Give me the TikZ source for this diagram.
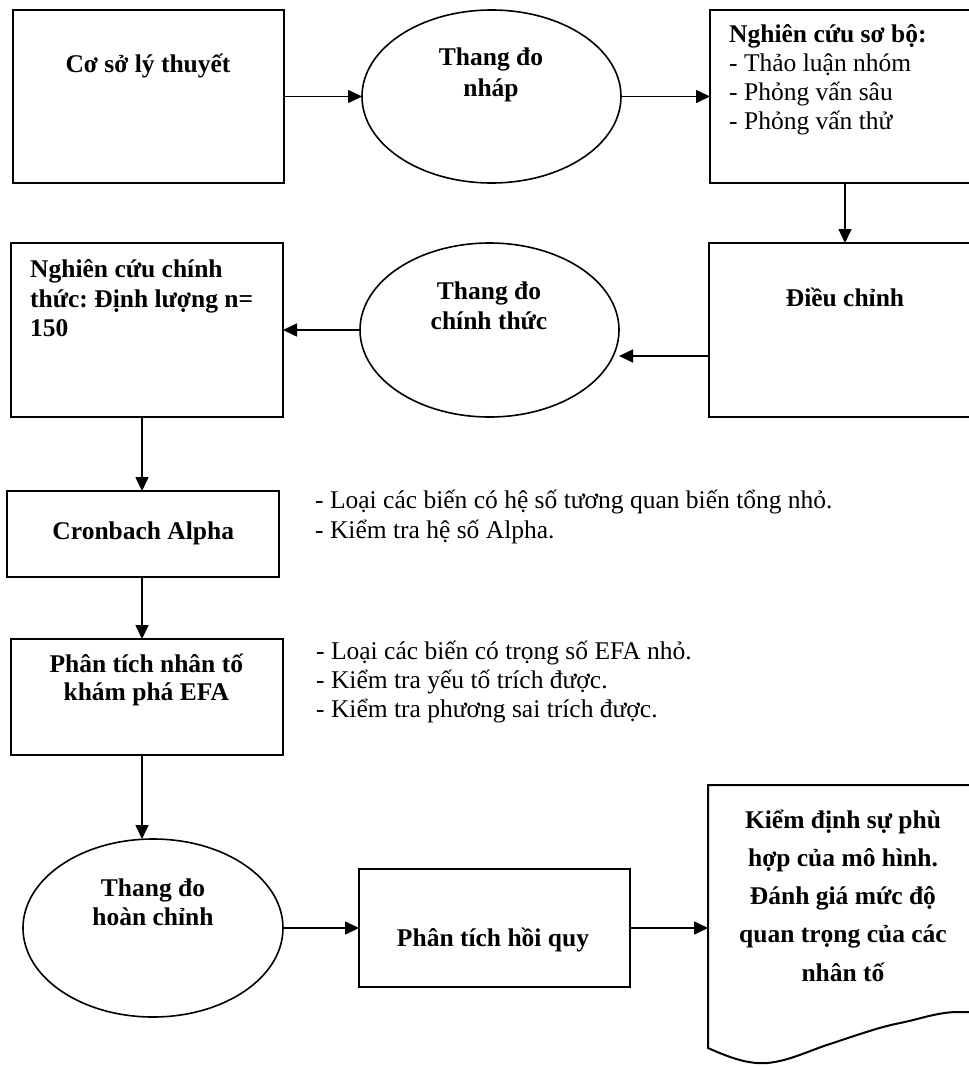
\documentclass[tikz,border=0pt]{standalone}
\usepackage{fontspec}
\setmainfont{Liberation Serif}
\frenchspacing
\usetikzlibrary{arrows.meta,shapes.geometric}
\newcommand\ctrlines[2]{\vtop{\baselineskip=#1\lineskiplimit=-100pt\lineskip=0pt\halign{\hfil##\hfil\cr#2\crcr}}}
\newcommand\leftlines[2]{\vtop{\baselineskip=#1\lineskiplimit=-100pt\lineskip=0pt\halign{##\hfil\cr#2\crcr}}}
\tikzset{
  boxshape/.style={draw, rectangle, line width=2pt, inner sep=0pt, outer sep=0pt},
  ellshape/.style={draw, ellipse, line width=1.6pt, inner sep=0pt, outer sep=0pt},
  flow/.style={line width=1.6pt, -{Triangle[length=14pt,width=13pt]}},
  boldtxt/.style={font=\fontsize{25.5}{29}\selectfont\bfseries, inner sep=0pt, anchor=base},
  plaintxt/.style={font=\fontsize{25.5}{29}\selectfont, inner sep=0pt, anchor=base west},
}
\begin{document}
\begin{tikzpicture}[x=1pt,y=-1pt]
\useasboundingbox (0,0) rectangle (969,1066);
\clip (0,0) rectangle (969,1066);

% shapes
\node[boxshape, minimum width=271pt, minimum height=173pt] (b1) at (148.5,96.5) {};
\node[ellshape, minimum width=259pt, minimum height=173pt] (e1) at (491.5,96.5) {};
\node[boxshape, minimum width=290pt, minimum height=173pt] (b3) at (855,96.5) {};
\node[boxshape, minimum width=291pt, minimum height=174pt] (b4) at (854.5,330) {};
\node[ellshape, minimum width=259pt, minimum height=174pt] (e2) at (489.5,330) {};
\node[boxshape, minimum width=272pt, minimum height=174pt] (b5) at (147,330) {};
\node[boxshape, minimum width=272pt, minimum height=86pt] (b6) at (143,534) {};
\node[boxshape, minimum width=272pt, minimum height=116pt] (b7) at (147,697) {};
\node[ellshape, minimum width=260pt, minimum height=178pt] (e3) at (153,928) {};
\node[boxshape, minimum width=271pt, minimum height=118pt] (b8) at (494.5,928) {};
\node[inner sep=0pt, outer sep=0pt, minimum width=292pt, minimum height=263pt] (doc) at (854,916.5) {};
\draw[line width=2pt] (1000,785) -- (708,785) -- (708,1048)
  .. controls (735,1060) and (750,1064) .. (767,1063)
  .. controls (790,1061) and (810,1050) .. (833,1043)
  .. controls (860,1034) and (880,1027) .. (900,1023)
  .. controls (920,1019) and (935,1013) .. (955,1012) -- (1000,1012);

% texts
\node[boldtxt] (t1) at (148,72) {Cơ sở lý thuyết};
\node[boldtxt] (te1) at (491,65) {\ctrlines{31pt}{Thang đo\cr nháp}};
\node[plaintxt] (t3) at (729,42.7) {\leftlines{29pt}{{\bfseries Nghiên cứu sơ bộ:}\cr - Thảo luận nhóm\cr - Phỏng vấn sâu\cr - Phỏng vấn thử}};
\node[boldtxt] (t4) at (845,306.7) {Điều chỉnh};
\node[boldtxt] (te2) at (489,299) {\ctrlines{30.5pt}{Thang đo\cr chính thức}};
\node[boldtxt, anchor=base west] (t5) at (30,277.3) {\leftlines{29.7pt}{Nghiên cứu chính\cr thức: Định lượng n=\cr 150}};
\node[boldtxt] (t6) at (143.3,539) {Cronbach Alpha};
\node[plaintxt] (n6) at (315,508) {\leftlines{30pt}{- Loại các biến có hệ số tương quan biến tổng nhỏ.\cr - Kiểm tra hệ số Alpha.}};
\node[boldtxt] (t7) at (146.3,672.3) {\ctrlines{28.4pt}{Phân tích nhân tố\cr khám phá EFA}};
\node[plaintxt] (n7) at (316,659) {\leftlines{29pt}{- Loại các biến có trọng số EFA nhỏ.\cr - Kiểm tra yếu tố trích được.\cr - Kiểm tra phương sai trích được.}};
\node[boldtxt] (te3) at (153,896.7) {\ctrlines{28.3pt}{Thang đo\cr hoàn chỉnh}};
\node[boldtxt] (t8) at (493,946.7) {Phân tích hồi quy};
\node[boldtxt] (tdoc) at (843,828.3) {\ctrlines{38.2pt}{Kiểm định sự phù\cr hợp của mô hình.\cr Đánh giá mức độ\cr quan trọng của các\cr nhân tố}};

% connectors
\coordinate (cx1) at (845,0);
\coordinate (cy1) at (0,356);
\coordinate (cx2) at (142,0);
\draw[flow] (b1) -- (e1);
\draw[flow] (e1) -- (b3);
\draw[flow] (b3.south -| cx1) -- (b4.north -| cx1);
\draw[flow] (b4.west |- cy1) -- (e2.east |- cy1);
\draw[flow] (e2) -- (b5);
\draw[flow] (b5.south -| cx2) -- (b6.north -| cx2);
\draw[flow] (b6.south -| cx2) -- (b7.north -| cx2);
\draw[flow] (b7.south -| cx2) -- (e3.north -| cx2);
\draw[flow] (e3) -- (b8);
\draw[flow] (b8.east) -- (b8.east -| doc.west);
\end{tikzpicture}
\end{document}
